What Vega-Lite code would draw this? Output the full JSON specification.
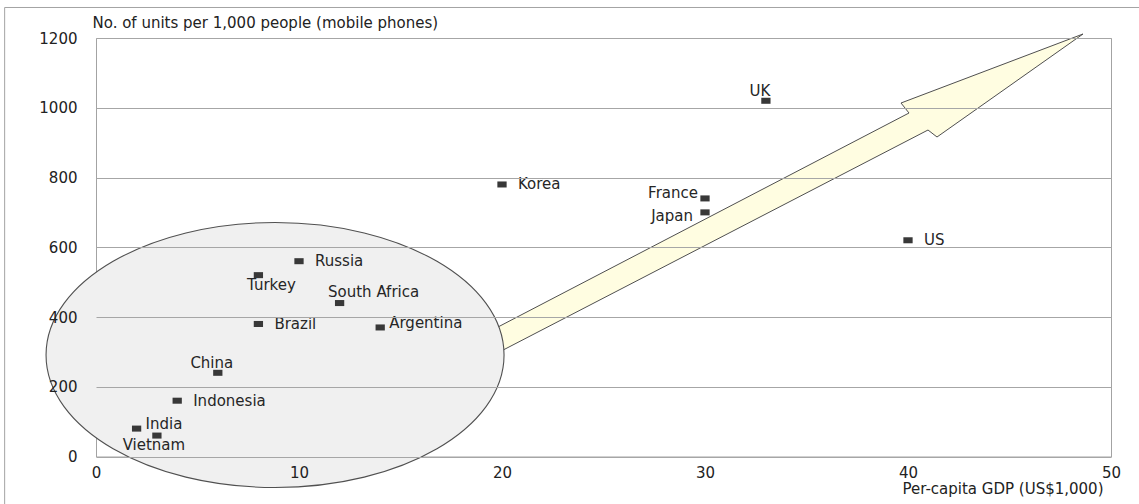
{
  "$schema": "https://vega.github.io/schema/vega-lite/v6.json",
  "width": 1015,
  "height": 418.5,
  "autosize": {"type": "none"},
  "padding": {"left": 96, "top": 38, "right": 28, "bottom": 47.5},
  "background": "white",
  "config": {
    "font": "DejaVu Sans",
    "view": {"stroke": "#a3a3a3", "strokeWidth": 1}
  },
  "datasets": {
    "countries": [
      {"country": "UK", "gdp": 33, "phones": 1020},
      {"country": "Korea", "gdp": 20, "phones": 780},
      {"country": "France", "gdp": 30, "phones": 740},
      {"country": "Japan", "gdp": 30, "phones": 700},
      {"country": "US", "gdp": 40, "phones": 620},
      {"country": "Russia", "gdp": 10, "phones": 560},
      {"country": "Turkey", "gdp": 8, "phones": 520},
      {"country": "South Africa", "gdp": 12, "phones": 440},
      {"country": "Brazil", "gdp": 8, "phones": 380},
      {"country": "Argentina", "gdp": 14, "phones": 370},
      {"country": "China", "gdp": 6, "phones": 240},
      {"country": "Indonesia", "gdp": 4, "phones": 160},
      {"country": "India", "gdp": 2, "phones": 80},
      {"country": "Vietnam", "gdp": 3, "phones": 60}
    ],
    "emerging": [{"gdp": 8.82, "phones": 291}],
    "trend": [{"gdp": 34, "phones": 760}]
  },
  "layer": [
    {
      "data": {"values": [{"edge": "top"}, {"edge": "left"}]},
      "layer": [
        {
          "transform": [{"filter": {"field": "edge", "equal": "top"}}],
          "mark": {"type": "rule", "color": "#a3a3a3", "strokeWidth": 1},
          "encoding": {
            "x": {"datum": -4.5, "type": "quantitative"},
            "x2": {"datum": 60},
            "y": {"datum": 1287.5, "type": "quantitative"}
          }
        },
        {
          "transform": [{"filter": {"field": "edge", "equal": "left"}}],
          "mark": {"type": "rule", "color": "#a3a3a3", "strokeWidth": 1},
          "encoding": {
            "x": {"datum": -4.5, "type": "quantitative"},
            "y": {"datum": 1287.5, "type": "quantitative"},
            "y2": {"datum": -200}
          }
        }
      ]
    },
    {
      "encoding": {
        "x": {
          "field": "gdp",
          "type": "quantitative",
          "scale": {"domain": [0, 50], "nice": false, "zero": false},
          "axis": {
            "title": "Per-capita GDP (US$1,000)",
            "values": [0, 10, 20, 30, 40, 50],
            "grid": false,
            "domain": false,
            "ticks": false,
            "labelFlush": false,
            "labelPadding": 9,
            "labelFontSize": 15,
            "labelColor": "#222222",
            "titleFontSize": 15,
            "titleFontWeight": "normal",
            "titleColor": "#222222",
            "titleAlign": "right",
            "titleBaseline": "alphabetic",
            "titleX": 1007,
            "titleY": 37,
            "zindex": 1
          }
        },
        "y": {
          "field": "phones",
          "type": "quantitative",
          "scale": {"domain": [0, 1200], "nice": false, "zero": false},
          "axis": {
            "title": "No. of units per 1,000 people (mobile phones)",
            "values": [0, 200, 400, 600, 800, 1000, 1200],
            "format": "d",
            "grid": true,
            "gridColor": "#a6a6a6",
            "gridWidth": 1,
            "domain": false,
            "ticks": false,
            "labelFlush": false,
            "labelPadding": 19,
            "labelFontSize": 15,
            "labelColor": "#222222",
            "titleFontSize": 15,
            "titleFontWeight": "normal",
            "titleColor": "#222222",
            "titleAngle": 0,
            "titleAlign": "left",
            "titleBaseline": "alphabetic",
            "titleX": -4,
            "titleY": -11,
            "zindex": 1
          }
        }
      },
      "layer": [
        {
          "data": {"name": "trend"},
          "mark": {
            "type": "point",
            "shape": "M 0.742 -0.3936 L 0.377 -0.1361 L 0.3545 -0.1536 L -0.7968 0.4426 L -0.8093 0.3851 L 0.307 -0.1961 L 0.287 -0.2211 Z",
            "size": 640000,
            "filled": true,
            "fill": "#fffde1",
            "stroke": "#4f4f4f",
            "strokeWidth": 1,
            "opacity": 1
          }
        },
        {
          "data": {"name": "emerging"},
          "mark": {
            "type": "point",
            "shape": "M 1 0 C 1 0.3196 0.5523 0.5786 0 0.5786 C -0.5523 0.5786 -1 0.3196 -1 0 C -1 -0.3196 -0.5523 -0.5786 0 -0.5786 C 0.5523 -0.5786 1 -0.3196 1 0 Z",
            "size": 209764,
            "filled": true,
            "fill": "#f0f0f0",
            "stroke": "#505050",
            "strokeWidth": 1.1,
            "opacity": 1
          }
        },
        {
          "data": {"name": "countries"},
          "mark": {
            "type": "point",
            "shape": "M -1 -0.65 L 1 -0.65 L 1 0.65 L -1 0.65 Z",
            "size": 86,
            "filled": true,
            "color": "#383838",
            "opacity": 1
          }
        },
        {
          "data": {"name": "countries"},
          "transform": [{"filter": {"field": "country", "oneOf": ["Russia", "Brazil", "Indonesia", "Korea", "US"]}}],
          "mark": {"type": "text", "align": "left", "baseline": "middle", "dx": 16, "fontSize": 15, "color": "#262626"},
          "encoding": {"text": {"field": "country"}}
        },
        {
          "data": {"name": "countries"},
          "transform": [{"filter": {"field": "country", "oneOf": ["Argentina", "India"]}}],
          "mark": {"type": "text", "align": "left", "baseline": "middle", "dx": 9, "dy": -4.5, "fontSize": 15, "color": "#262626"},
          "encoding": {"text": {"field": "country"}}
        },
        {
          "data": {"name": "countries"},
          "transform": [{"filter": {"field": "country", "oneOf": ["UK", "China"]}}],
          "mark": {"type": "text", "align": "center", "baseline": "middle", "dx": -6, "dy": -10, "fontSize": 15, "color": "#262626"},
          "encoding": {"text": {"field": "country"}}
        },
        {
          "data": {"name": "countries"},
          "transform": [{"filter": {"field": "country", "equal": "South Africa"}}],
          "mark": {"type": "text", "align": "center", "baseline": "middle", "dx": 34, "dy": -11, "fontSize": 15, "color": "#262626"},
          "encoding": {"text": {"field": "country"}}
        },
        {
          "data": {"name": "countries"},
          "transform": [{"filter": {"field": "country", "equal": "Turkey"}}],
          "mark": {"type": "text", "align": "center", "baseline": "middle", "dx": 13, "dy": 10, "fontSize": 15, "color": "#262626"},
          "encoding": {"text": {"field": "country"}}
        },
        {
          "data": {"name": "countries"},
          "transform": [{"filter": {"field": "country", "equal": "Vietnam"}}],
          "mark": {"type": "text", "align": "center", "baseline": "middle", "dx": -3, "dy": 9, "fontSize": 15, "color": "#262626"},
          "encoding": {"text": {"field": "country"}}
        },
        {
          "data": {"name": "countries"},
          "transform": [{"filter": {"field": "country", "equal": "France"}}],
          "mark": {"type": "text", "align": "right", "baseline": "middle", "dx": -7, "dy": -5, "fontSize": 15, "color": "#262626"},
          "encoding": {"text": {"field": "country"}}
        },
        {
          "data": {"name": "countries"},
          "transform": [{"filter": {"field": "country", "equal": "Japan"}}],
          "mark": {"type": "text", "align": "right", "baseline": "middle", "dx": -12, "dy": 4, "fontSize": 15, "color": "#262626"},
          "encoding": {"text": {"field": "country"}}
        }
      ]
    }
  ]
}
